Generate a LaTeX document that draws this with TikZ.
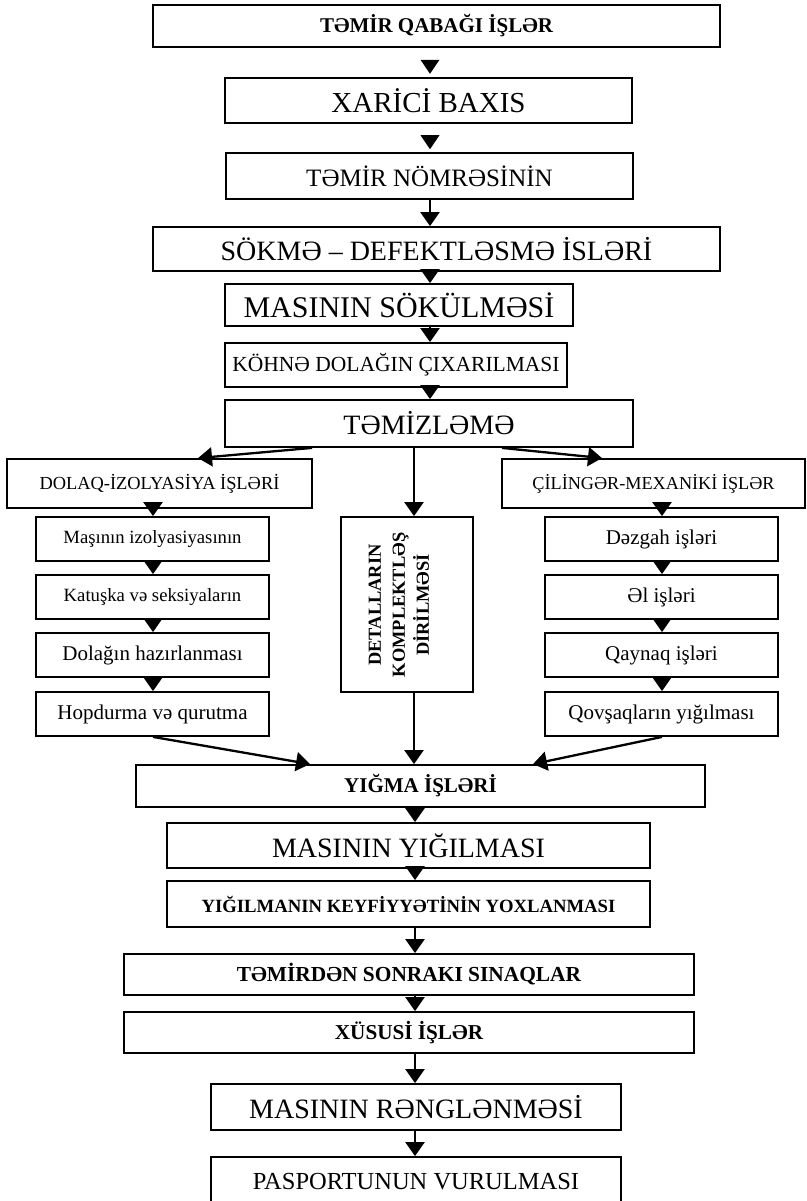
\documentclass[tikz,border=0pt]{standalone}
\usepackage{fontspec}
\setmainfont{Liberation Serif}
\usetikzlibrary{arrows.meta,calc,shapes.geometric}
\tikzset{
  box/.style={draw, line width=1.8pt, inner sep=0pt, rectangle, align=center},
  conn/.style={line width=2.3pt, -{Triangle[length=14pt,width=19pt]}},
  tri/.style={isosceles triangle, shape border rotate=270, fill=black, draw=none, inner sep=0pt,
    minimum width=19pt, minimum height=14pt, isosceles triangle stretches},
}
\newcommand\fs[1]{\fontsize{#1}{#1}\selectfont}
\newcommand\mkbox[7]{%
  \pgfmathsetmacro\bw{#4-#2}\pgfmathsetmacro\bh{#5-#3}%
  \pgfmathsetmacro\bcx{(#2+#4)/2}\pgfmathsetmacro\bcy{(#3+#5)/2}%
  \node[box, minimum width=\bw pt, minimum height=\bh pt, font={#6}] (#1) at (\bcx,\bcy) {#7};}
\begin{document}
\begin{tikzpicture}[x=1pt,y=-1pt]
\useasboundingbox (0,0) rectangle (806,1201);
\clip (0,0) rectangle (806,1201);
\coordinate (cx) at (430,0);
\coordinate (bx) at (415,0);
\coordinate (lx) at (153,0);
\coordinate (rx) at (662,0);
% top chain
\mkbox{b1}{153}{5}{720}{47}{\fs{21}\bfseries}{TƏMİR QABAĞI İŞLƏR}
\mkbox{b2}{225}{78}{632}{123}{\fs{29}}{XARİCİ BAXIS}
\mkbox{b3}{226}{153}{633}{199}{\fs{25}}{TƏMİR NÖMRƏSİNİN}
\mkbox{b4}{153}{227}{720}{271}{\fs{28}}{SÖKMƏ – DEFEKTLƏSMƏ İSLƏRİ}
\mkbox{b5}{225}{284}{573}{326}{\fs{30}}{MASININ SÖKÜLMƏSİ}
\mkbox{b6}{225}{343}{567}{387}{\fs{21.5}}{KÖHNƏ DOLAĞIN ÇIXARILMASI}
\mkbox{b7}{225}{400}{633}{447}{\fs{28}}{TƏMİZLƏMƏ}
% branches
\mkbox{dolaq}{7}{459}{312}{508}{\fs{18.4}}{DOLAQ-İZOLYASİYA İŞLƏRİ}
\mkbox{cil}{502}{459}{805}{508}{\fs{18.2}}{ÇİLİNGƏR-MEXANİKİ İŞLƏR}
\mkbox{l1}{36}{517}{269}{561}{\fs{18.7}}{Maşının izolyasiyasının}
\mkbox{l2}{36}{575}{269}{619}{\fs{18.7}}{Katuşka və seksiyaların}
\mkbox{l3}{36}{633}{269}{677}{\fs{21}}{Dolağın hazırlanması}
\mkbox{l4}{36}{692}{269}{736}{\fs{21}}{Hopdurma və qurutma}
\mkbox{r1}{545}{517}{778}{561}{\fs{21}}{Dəzgah işləri}
\mkbox{r2}{545}{575}{778}{619}{\fs{21}}{Əl işləri}
\mkbox{r3}{545}{633}{778}{677}{\fs{21}}{Qaynaq işləri}
\mkbox{r4}{545}{692}{778}{736}{\fs{21}}{Qovşaqların yığılması}
\node[box, minimum width=132pt, minimum height=175pt] (det) at (407,604.5) {};
\node[rotate=90, align=center, font=\fontsize{18.4}{24}\selectfont\bfseries] (dett) at (399,605)
  {DETALLARIN\\KOMPLEKTLƏŞ\\DİRİLMƏSİ};
% bottom chain
\mkbox{yig}{136}{765}{705}{807}{\fs{21}\bfseries}{YIĞMA İŞLƏRİ}
\mkbox{m1}{167}{823}{650}{868}{\fs{28}}{MASININ YIĞILMASI}
\mkbox{m2}{167}{881}{650}{927}{\fs{18.7}\bfseries}{YIĞILMANIN KEYFİYYƏTİNİN YOXLANMASI}
\mkbox{m3}{124}{954}{694}{995}{\fs{21.4}\bfseries}{TƏMİRDƏN SONRAKI SINAQLAR}
\mkbox{m4}{124}{1012}{694}{1053}{\fs{21.2}\bfseries}{XÜSUSİ İŞLƏR}
\mkbox{m5}{211}{1084}{621}{1130}{\fs{28}}{MASININ RƏNGLƏNMƏSİ}
\mkbox{m6}{211}{1157}{621}{1207}{\fs{24.5}}{PASPORTUNUN VURULMASI}
% connectors, top chain
\path (b1.south -| cx) -- (b2.north -| cx) node[tri, pos=0.58] {};
\path (b2.south -| cx) -- (b3.north -| cx) node[tri, pos=0.58] {};
\draw[conn] (b3.south -| cx) -- (b4.north -| cx);
\draw[conn] (b4.south -| cx) -- (b5.north -| cx);
\draw[conn] (b5.south -| cx) -- (b6.north -| cx);
\draw[conn] (b6.south -| cx) -- (b7.north -| cx);
% branches from TƏMİZLƏMƏ
\coordinate (s1) at (312,0); \coordinate (e1) at (198,0);
\coordinate (s2) at (502,0); \coordinate (e2) at (602,0);
\coordinate (mx) at (414,0);
\draw[conn] (b7.south -| s1) -- (dolaq.north -| e1);
\draw[conn] (b7.south -| s2) -- (cil.north -| e2);
\draw[conn] (b7.south -| mx) -- (det.north -| mx);
% columns
\draw[conn] (dolaq.south -| lx) -- (l1.north -| lx);
\draw[conn] (l1.south -| lx) -- (l2.north -| lx);
\draw[conn] (l2.south -| lx) -- (l3.north -| lx);
\draw[conn] (l3.south -| lx) -- (l4.north -| lx);
\draw[conn] (cil.south -| rx) -- (r1.north -| rx);
\draw[conn] (r1.south -| rx) -- (r2.north -| rx);
\draw[conn] (r2.south -| rx) -- (r3.north -| rx);
\draw[conn] (r3.south -| rx) -- (r4.north -| rx);
% into YIĞMA
\coordinate (e3) at (310,0); \coordinate (e4) at (533,0);
\draw[conn] (l4.south -| lx) -- (yig.north -| e3);
\draw[conn] (r4.south -| rx) -- (yig.north -| e4);
\draw[conn] (det.south -| mx) -- (yig.north -| mx);
% bottom chain
\draw[conn] (yig.south -| bx) -- (m1.north -| bx);
\draw[conn] (m1.south -| bx) -- (m2.north -| bx);
\draw[conn] (m2.south -| bx) -- (m3.north -| bx);
\draw[conn] (m3.south -| bx) -- (m4.north -| bx);
\draw[conn] (m4.south -| bx) -- (m5.north -| bx);
\draw[conn] (m5.south -| bx) -- (m6.north -| bx);
\end{tikzpicture}
\end{document}
